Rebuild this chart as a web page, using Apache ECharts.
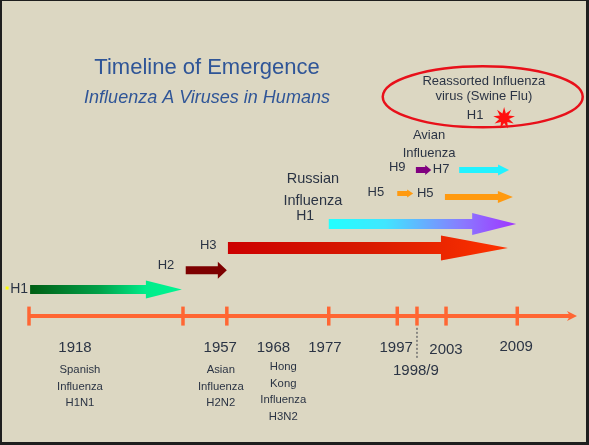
<!DOCTYPE html>
<html>
<head>
<meta charset="utf-8">
<script src="https://cdn.jsdelivr.net/npm/echarts@6/dist/echarts.min.js"></script>
<style>
  html, body { margin: 0; padding: 0; background: #1e1e1e; width: 589px; height: 445px; overflow: hidden; }
  #chart { position: absolute; left: 2px; top: 1px; width: 584px; height: 441px; }
</style>
</head>
<body>
<div id="chart"></div>
<script>
// ---------- DATA (schematic timeline units: x 0..100 along the timeline, y 0..100 levels) ----------
const tickPositions = [0, 28.1, 36.1, 54.7, 67.2, 70.8, 76.1, 89.1];
const timelineSpan = [0, 100];
const timelineLevel = 24.7;

const yearLabels = ['1918', '1957', '1968', '1977', '1997', '1998/9', '2003', '2009'];
const yearLabelX = [8.4, 34.9, 44.6, 54.0, 67.0, 70.6, 76.1, 88.9];
const yearLabelY = [15.8, 15.8, 15.8, 15.8, 15.9, 9.6, 15.4, 16.2];

const pandemicNames = ['Spanish\nInfluenza\nH1N1', 'Asian\nInfluenza\nH2N2', 'Hong\nKong\nInfluenza\nH3N2'];
const pandemicX = [9.3, 35.0, 46.4];
const pandemicY = [5.1, 5.1, 3.6];

const dividerX = 70.8;
const dividerRange = [13.1, 21.7];

const arrowNames = ['H1 Spanish', 'H2 Asian', 'H3 Hong Kong', 'H1 Russian', 'H5 1997', 'H5 2003', 'H9', 'H7'];
const arrowStart = [0.2, 28.6, 36.3, 54.7, 67.2, 75.9, 70.6, 78.5];
const arrowEnd   = [27.9, 36.1, 87.4, 88.9, 70.1, 88.3, 73.4, 87.6];
const arrowLevel = [32.1, 37.4, 43.6, 50.3, 58.75, 57.8, 65.3, 65.3];

const noteTexts = ['H1', 'H2', 'H3', 'Russian', 'Influenza', 'H1', 'Avian', 'Influenza',
                   'H9', 'H7', 'H5', 'H5', 'Reassorted Influenza', 'virus (Swine Flu)', 'H1'];
const noteX = [-1.8, 25.0, 32.7, 51.8, 51.8, 50.4, 73.0, 73.0, 67.2, 75.2, 63.3, 72.3, 83.0, 83.0, 81.4];
const noteY = [32.2, 38.9, 44.4, 62.9, 56.7, 52.4, 74.8, 69.8, 66.0, 65.5, 59.1, 58.8, 90.0, 85.8, 80.4];

const swineFlu = [86.7, 79.7];       // 2009 reassorted H1 burst
const swineRing = [82.8, 85.6];      // centre of the highlight ring
const startMarker = [-4.0, 32.5];    // small yellow marker before H1

// ---------- STYLES ----------
const FONT = '"Liberation Sans", Arial, sans-serif';
const TEXT = '#2b3444';
const TIMELINE = '#FF6633';
const G = echarts.graphic.LinearGradient;
const arrowStyles = [
  { shaft: 9,  head: 18, headLen: 36, fill: new G(0,0,1,0,[{offset:0,color:'#005E14'},{offset:0.45,color:'#00A048'},{offset:0.76,color:'#00EC8A'},{offset:1,color:'#00F492'}]) },
  { shaft: 8,  head: 17, headLen: 9,  fill: '#7D0000' },
  { shaft: 12, head: 25, headLen: 67, fill: new G(0,0,1,0,[{offset:0,color:'#CC0000'},{offset:0.5,color:'#D81A00'},{offset:0.8,color:'#EE2800'},{offset:1,color:'#FF3300'}]) },
  { shaft: 10, head: 22, headLen: 44, fill: new G(0,0,1,0,[{offset:0,color:'#22FFFF'},{offset:0.3,color:'#40E6FF'},{offset:0.72,color:'#8A78FF'},{offset:1,color:'#A033FF'}]) },
  { shaft: 5,  head: 8,  headLen: 6,  fill: '#FF9A10' },
  { shaft: 6,  head: 12, headLen: 15, fill: '#FF9A10' },
  { shaft: 6,  head: 10, headLen: 6,  fill: '#800080' },
  { shaft: 6,  head: 11, headLen: 11, fill: '#22F2FF' }
];
const noteStyles = [14, 13, 13, 14.5, 14.5, 14, 13, 13, 13, 13, 13, 13, 13, 13, 13];

const option = {
  backgroundColor: '#DCD7C2',
  animation: false,
  title: {
    text: 'Timeline of Emergence',
    subtext: 'Influenza A Viruses in Humans',
    left: 200, top: 51, textAlign: 'center', itemGap: 10,
    textStyle: { fontFamily: FONT, fontSize: 22, fontWeight: 'normal', color: '#2F5597' },
    subtextStyle: { fontFamily: FONT, fontSize: 18, fontStyle: 'italic', color: '#2F5597' }
  },
  grid: { left: 27, right: 9, top: 44, bottom: 37 },
  xAxis: { type: 'value', min: 0, max: 100, show: false },
  yAxis: { type: 'value', min: 0, max: 100, show: false },
  series: [
    {
      type: 'custom', clip: false, silent: true,
      data: [[timelineSpan[0], timelineSpan[1], timelineLevel]],
      renderItem: function (params, api) {
        const a = api.coord([api.value(0), api.value(2)]);
        const b = api.coord([api.value(1), api.value(2)]);
        return { type: 'group', children: [
          { type: 'line', shape: { x1: a[0], y1: a[1], x2: b[0] - 6, y2: b[1] }, style: { stroke: TIMELINE, lineWidth: 4 } },
          { type: 'polygon', shape: { points: [[b[0] - 10, b[1] - 5], [b[0], b[1]], [b[0] - 10, b[1] + 5], [b[0] - 7, b[1]]] }, style: { fill: TIMELINE } }
        ]};
      }
    },
    {
      type: 'custom', clip: false, silent: true,
      data: tickPositions.map(v => [v, timelineLevel]),
      renderItem: function (params, api) {
        const p = api.coord([api.value(0), api.value(1)]);
        return { type: 'line', shape: { x1: p[0], y1: p[1] - 9.5, x2: p[0], y2: p[1] + 9.5 }, style: { stroke: TIMELINE, lineWidth: 3.5 } };
      }
    },
    {
      type: 'custom', clip: false, silent: true,
      data: [[dividerX, dividerRange[0], dividerRange[1]]],
      renderItem: function (params, api) {
        const a = api.coord([api.value(0), api.value(1)]);
        const b = api.coord([api.value(0), api.value(2)]);
        return { type: 'line', shape: { x1: a[0], y1: a[1], x2: b[0], y2: b[1] }, style: { stroke: '#6e6e6e', lineWidth: 1.5, lineDash: [2, 2] } };
      }
    },
    {
      type: 'custom', clip: false, silent: true,
      data: arrowNames.map((n, i) => ({ name: n, value: [arrowStart[i], arrowEnd[i], arrowLevel[i], i] })),
      renderItem: function (params, api) {
        const i = api.value(3);
        const st = arrowStyles[i];
        const s = api.coord([api.value(0), api.value(2)]);
        const e = api.coord([api.value(1), api.value(2)]);
        const y = s[1];
        const hx = e[0] - st.headLen;
        const pts = [[s[0], y - st.shaft / 2], [hx, y - st.shaft / 2], [hx, y - st.head / 2], [e[0], y],
                     [hx, y + st.head / 2], [hx, y + st.shaft / 2], [s[0], y + st.shaft / 2]];
        return { type: 'polygon', shape: { points: pts }, style: { fill: st.fill } };
      }
    },
    {
      type: 'custom', clip: false, silent: true,
      data: yearLabels.map((t, i) => [yearLabelX[i], yearLabelY[i], i]),
      renderItem: function (params, api) {
        const p = api.coord([api.value(0), api.value(1)]);
        return { type: 'text', x: p[0], y: p[1], style: { text: yearLabels[api.value(2)], fill: TEXT, fontSize: 15, fontFamily: FONT, align: 'center', verticalAlign: 'middle' } };
      }
    },
    {
      type: 'custom', clip: false, silent: true,
      data: pandemicNames.map((t, i) => [pandemicX[i], pandemicY[i], i]),
      renderItem: function (params, api) {
        const p = api.coord([api.value(0), api.value(1)]);
        return { type: 'text', x: p[0], y: p[1], style: { text: pandemicNames[api.value(2)], fill: TEXT, fontSize: 11.3, lineHeight: 16.6, fontFamily: FONT, align: 'center', verticalAlign: 'middle' } };
      }
    },
    {
      type: 'custom', clip: false, silent: true,
      data: noteTexts.map((t, i) => [noteX[i], noteY[i], i]),
      renderItem: function (params, api) {
        const p = api.coord([api.value(0), api.value(1)]);
        const i = api.value(2);
        return { type: 'text', x: p[0], y: p[1], style: { text: noteTexts[i], fill: TEXT, fontSize: noteStyles[i], fontFamily: FONT, align: 'center', verticalAlign: 'middle' } };
      }
    },
    {
      type: 'custom', clip: false, silent: true,
      data: [[swineRing[0], swineRing[1], 0], [swineFlu[0], swineFlu[1], 1], [startMarker[0], startMarker[1], 2]],
      renderItem: function (params, api) {
        const p = api.coord([api.value(0), api.value(1)]);
        const k = api.value(2);
        if (k === 0) {
          return { type: 'ellipse', shape: { cx: p[0], cy: p[1], rx: 100, ry: 30.5 }, style: { fill: 'none', stroke: '#E8101A', lineWidth: 2.5 } };
        }
        if (k === 1) {
          const pts = [];
          const n = 9;
          for (let j = 0; j < n * 2; j++) {
            const r = j % 2 === 0 ? 11 : 5;
            const ang = -Math.PI / 2 + j * Math.PI / n;
            pts.push([p[0] + r * Math.cos(ang), p[1] + r * Math.sin(ang)]);
          }
          return { type: 'polygon', shape: { points: pts }, style: { fill: '#FF1010' } };
        }
        return { type: 'rect', shape: { x: p[0] - 1.5, y: p[1] - 1.5, width: 3, height: 3 }, style: { fill: '#FFFF00' } };
      }
    }
  ]
};

const chart = echarts.init(document.getElementById('chart'), null, { renderer: 'canvas' });
chart.setOption(option);
</script>
</body>
</html>
